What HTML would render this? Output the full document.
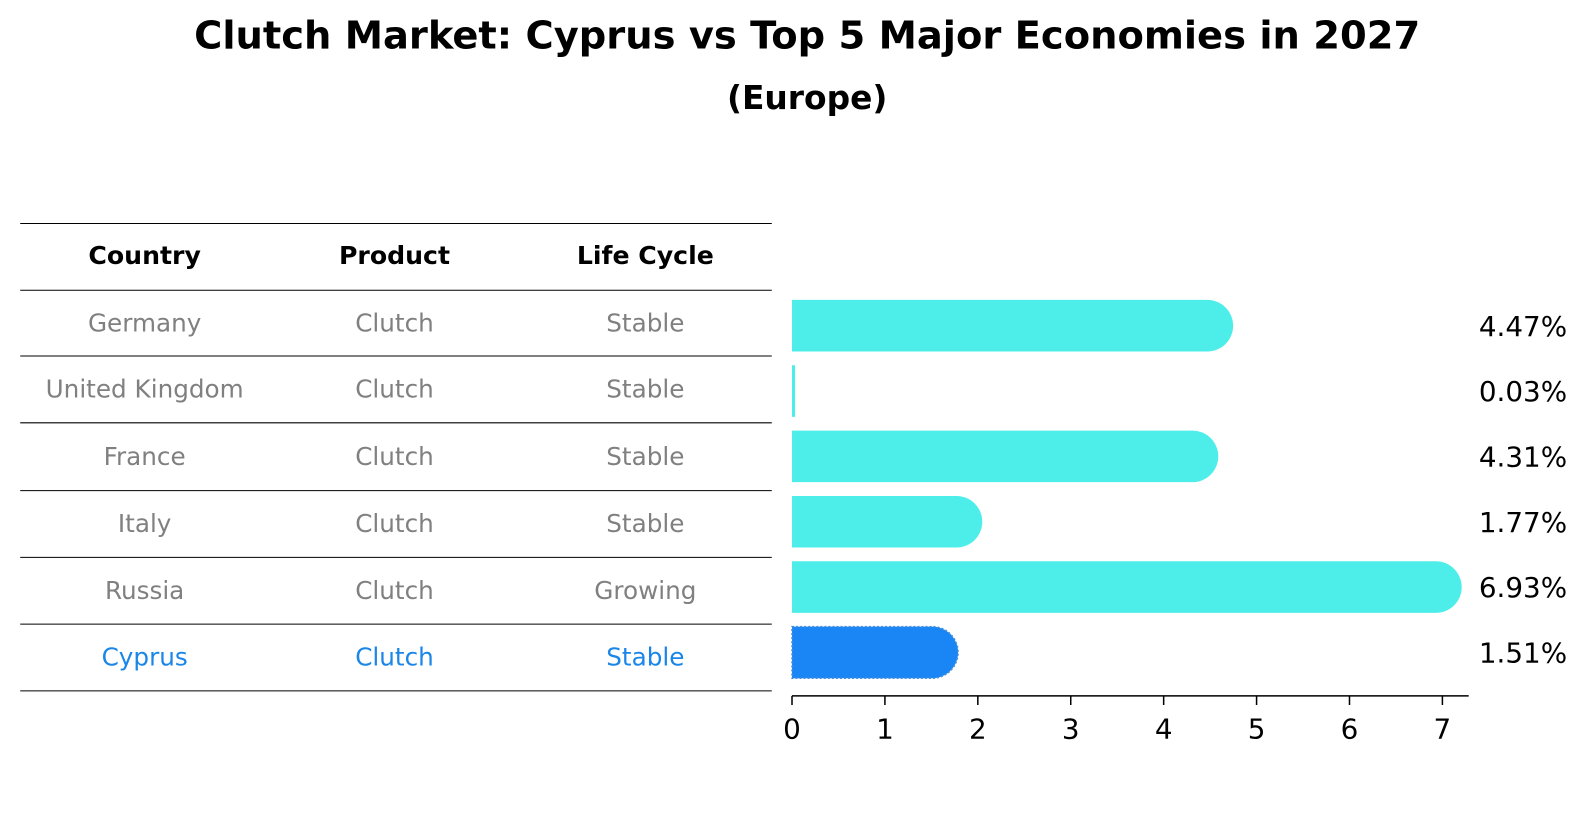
<!DOCTYPE html>
<html><head><meta charset="utf-8"><style>
body{margin:0;background:#fff;font-family:"DejaVu Sans","Liberation Sans",sans-serif;}
svg text{font-family:"DejaVu Sans","Liberation Sans",sans-serif;}
</style></head><body>
<svg id="chart" width="1586" height="823" xmlns="http://www.w3.org/2000/svg">
<g transform="scale(1.0115)">
<text x="798" y="48" text-anchor="middle" font-size="38" font-weight="bold">Clutch Market: Cyprus vs Top 5 Major Economies in 2027</text>
<text x="798" y="108" text-anchor="middle" font-size="32.5" font-weight="bold">(Europe)</text>
<g id="table"></g>
<g id="bars"></g>
<g id="axis"></g>
</g>
</svg>
<script>
const countries=["Germany","United Kingdom","France","Italy","Russia","Cyprus"];
const products=["Clutch","Clutch","Clutch","Clutch","Clutch","Clutch"];
const lifeCycles=["Stable","Stable","Stable","Stable","Growing","Stable"];
const values=[4.47,0.03,4.31,1.77,6.93,1.51];
const valueLabels=["4.47%","0.03%","4.31%","1.77%","6.93%","1.51%"];
const xTicks=[0,1,2,3,4,5,6,7];
const NS="http://www.w3.org/2000/svg";
function mk(tag,attrs,parent,text){const e=document.createElementNS(NS,tag);for(const k in attrs)e.setAttribute(k,attrs[k]);if(text!==undefined)e.textContent=text;parent.appendChild(e);return e;}
const x0=783,unit=(1426-783)/7;
const xs=v=>x0+v*unit;
const rowY=i=>322+i*64.6;
const tbl=document.getElementById('table');
const lineYs=[221,287,352,418,485,551,617,683];
lineYs.forEach((y,i)=>{const l=mk('line',{x1:20,x2:763,y1:y,y2:y,stroke:'#000','stroke-width':1},tbl);

});
const colX=[143,390,638];
["Country","Product","Life Cycle"].forEach((h,j)=>{const t=mk('text',{x:colX[j],y:261,'text-anchor':'middle','font-size':24.9,'font-weight':'bold'},tbl,h);

});
countries.forEach((c,i)=>{const col=i===5?'#1a86e8':'#808080';const y=(lineYs[i+1]+lineYs[i+2])/2+8;
[c,products[i],lifeCycles[i]].forEach((v,j)=>{const t=mk('text',{x:colX[j],y:y,'text-anchor':'middle','font-size':24.4,fill:col},tbl,v);

});});
const bars=document.getElementById('bars');
const h=51,r=25.5;
values.forEach((v,i)=>{const cy=rowY(i),top=cy-h/2,end=xs(v);const cyp=i===5;
const fill=cyp?'#1a86f5':'#4deee9';
if(v<0.1){
const b=mk('rect',{x:x0,y:top,width:3,height:h,fill:fill},bars);

}
else{const d=`M${x0},${top} H${end} A${r},${r} 0 0 1 ${end},${top+h} H${x0} Z`;
const b=mk('path',{d:d,fill:fill},bars);
if(cyp){b.setAttribute('stroke','#4a90d9');b.setAttribute('stroke-dasharray','2,2');b.setAttribute('stroke-width','1.5');}

}
const t=mk('text',{x:1462,y:cy+10,'font-size':27.5},bars,valueLabels[i]);

});
const ax=document.getElementById('axis');
mk('line',{x1:783,x2:1452,y1:688,y2:688,stroke:'#000','stroke-width':1.5},ax);
xTicks.forEach(v=>{const x=xs(v);mk('line',{x1:x,x2:x,y1:688,y2:697,stroke:'#000','stroke-width':1.5},ax);
const t=mk('text',{x:x,y:730,'text-anchor':'middle','font-size':27.5},ax,String(v));

});
</script>
</body></html>
